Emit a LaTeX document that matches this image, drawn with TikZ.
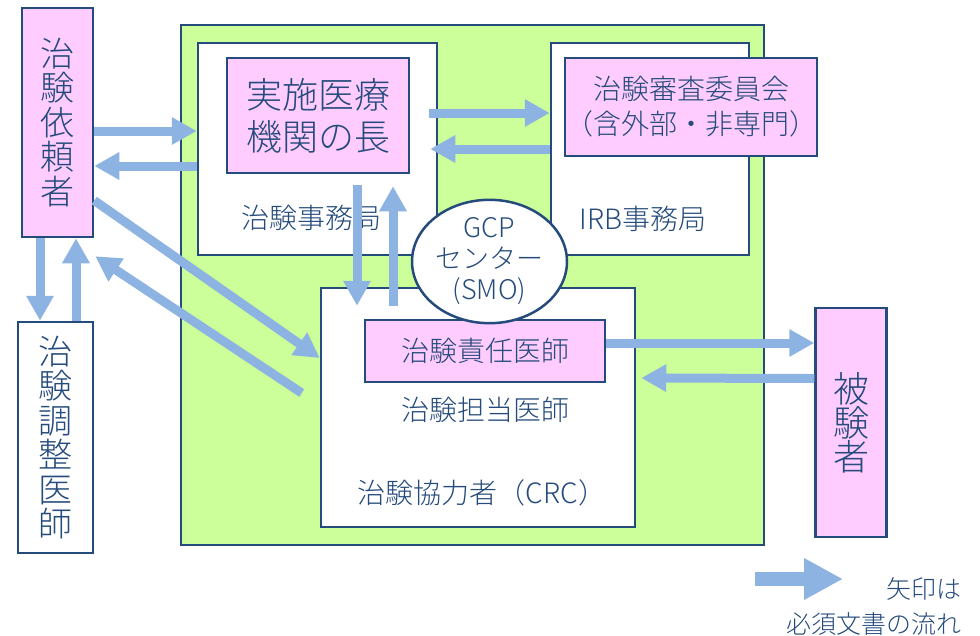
\documentclass[tikz,border=0pt]{standalone}
\usepackage{fontspec}
\setmainfont{Noto Sans CJK JP}[UprightFont={* Light}]
\usetikzlibrary{shapes.geometric, arrows.meta}

\definecolor{framecol}{HTML}{254B7C}
\definecolor{pinkfill}{HTML}{FFCCFF}
\definecolor{greenfill}{HTML}{CCFF99}
\definecolor{flowcol}{HTML}{8DB3E2}

\begin{document}
\begin{tikzpicture}[
    x=1pt, y=-1pt,
    every node/.style={text=framecol, inner sep=0pt, align=center},
    box/.style={draw=framecol, line width=2.5pt, fill=white},
    pinkbox/.style={box, fill=pinkfill},
    flow/.style={draw=flowcol, line width=9pt, -{Triangle[length=25pt, width=26pt]}},
    vtext/.style={font=\fontsize{34pt}{34.5pt}\selectfont},
    midtext/.style={font=\fontsize{28pt}{35pt}\selectfont}
]
    \useasboundingbox (0,0) rectangle (980,635);

    % ---- Site frame ----
    \node[box, fill=greenfill, minimum width=583pt, minimum height=520pt] (site) at (472.5, 285) {};

    % ---- Trial office / IRB office ----
    \node[box, minimum width=239pt, minimum height=212pt] (jimu) at (317.5, 149) {};
    \node[midtext] (jimulbl) at (311.5, 218) {治験事務局};
    \node[box, minimum width=198pt, minimum height=212pt] (irbjimu) at (650, 149) {};
    \node[midtext] (irblbl) at (643, 219) {IRB事務局};

    % ---- Head of institution ----
    \node[pinkbox, minimum width=182pt, minimum height=115pt,
          font=\fontsize{36pt}{42pt}\selectfont] (head) at (318, 115.5) {実施医療\\機関の長};

    % ---- IRB ----
    \node[pinkbox, minimum width=252pt, minimum height=98pt, midtext] (irb) at (691, 107) {治験審査委員会\\（含外部・非専門）};

    % ---- Investigators ----
    \node[box, minimum width=314pt, minimum height=239pt] (crc) at (478, 407.5) {};
    \node[pinkbox, minimum width=240pt, minimum height=62pt, midtext] (pi) at (485, 351) {治験責任医師};
    \node[midtext] (subinv) at (485, 410) {治験担当医師};
    \node[midtext] (crclbl) at (482, 493) {治験協力者（CRC）};

    % ---- GCP center ----
    \node[box, ellipse, minimum width=155pt, minimum height=113pt,
          font=\fontsize{27pt}{31pt}\selectfont] (gcp) at (489.5, 261.5) {GCP\\センター\\(SMO)};

    % ---- Outside parties ----
    \node[pinkbox, minimum width=71pt, minimum height=229pt, vtext] (sponsor) at (57.5, 122.5) {治\\験\\依\\頼\\者};
    \node[box, minimum width=75pt, minimum height=231pt, vtext] (coord) at (55.5, 437.5) {治\\験\\調\\整\\医\\師};
    \node[pinkbox, minimum width=71pt, minimum height=229pt,
          font=\fontsize{36pt}{34pt}\selectfont] (subject) at (851, 422.5) {被\\験\\者};

    % ---- Document flow ----
    \draw[flow] ([yshift=-8.5pt]sponsor.east) -- ([yshift=18pt]jimu.west);
    \draw[flow] ([yshift=-17pt]jimu.west) -- ([yshift=-43.5pt]sponsor.east);
    \draw[flow] ([xshift=19pt, yshift=2.5pt]head.east) -- ([yshift=36pt]irbjimu.west);
    \draw[flow] ([yshift=0pt]irbjimu.west) -- ([xshift=20pt, yshift=-33.5pt]head.east);
    \draw[flow] ([xshift=39pt, yshift=-11pt]head.south) -- ([xshift=-121pt, yshift=-19pt]crc.north);
    \draw[flow] ([xshift=-85pt, yshift=-19pt]crc.north) -- ([xshift=75pt, yshift=-12pt]head.south);
    \draw[flow] ([yshift=-78pt]sponsor.east) -- ([yshift=49.5pt]crc.west);
    \draw[flow] ([xshift=-18pt, yshift=14.5pt]crc.west) -- ([xshift=1pt, yshift=-18pt]sponsor.south east);
    \draw[flow] ([xshift=-17.5pt]sponsor.south) -- ([xshift=-15.5pt]coord.north);
    \draw[flow] ([xshift=20.5pt]coord.north) -- ([xshift=18.5pt]sponsor.south);
    \draw[flow] ([yshift=8pt]pi.east) -- ([yshift=79.5pt]subject.west);
    \draw[flow] ([yshift=44pt]subject.west) -- ([xshift=5pt, yshift=29.5pt]crc.east);

    % ---- Legend ----
    \coordinate (legA) at (755, 579);
    \coordinate (legB) at (843, 579);
    \draw[draw=flowcol, line width=14pt, -{Triangle[length=39pt, width=39pt]}] (legA) -- (legB);
    \node[font=\fontsize{25pt}{35pt}\selectfont, align=right, anchor=east] (legtxt) at (962, 606) {矢印は\\必須文書の流れ};

\end{tikzpicture}
\end{document}
